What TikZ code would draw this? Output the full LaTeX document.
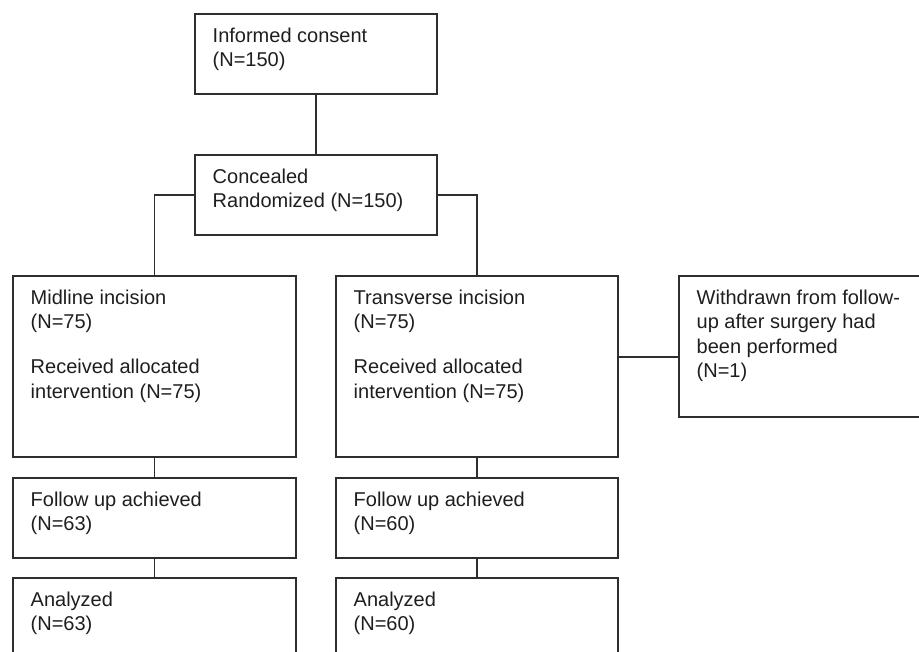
\documentclass[tikz,border=0pt]{standalone}
\usepackage{fontspec}
\setmainfont{Liberation Sans}
\usetikzlibrary{calc}
\definecolor{ln}{HTML}{2E2E2E}
\definecolor{tx}{HTML}{1E1E1E}
\begin{document}
\begin{tikzpicture}[x=1pt,y=-1pt,
  box/.style={draw=ln,line width=1.5pt,rectangle,inner sep=0pt,outer sep=0pt,anchor=north west},
  txt/.style={text=tx,font=\fontsize{20}{24.5}\selectfont,align=left,inner sep=0pt,anchor=north west,
    execute at begin node={\rule{0pt}{15pt}}},
  conn/.style={draw=ln,line width=1.5pt}]
\useasboundingbox (0,0) rectangle (919,652);
% boxes
\node[box,minimum width=242pt,minimum height=80pt] (b1) at (195,14) {};
\node[box,minimum width=242pt,minimum height=80pt] (b2) at (195,155) {};
\node[box,minimum width=283pt,minimum height=181pt] (b3) at (13,276) {};
\node[box,minimum width=282pt,minimum height=181pt] (b4) at (336,276) {};
\node[box,minimum width=242pt,minimum height=141pt] (b5) at (679,276) {};
\node[box,minimum width=283pt,minimum height=80pt] (b6) at (13,478) {};
\node[box,minimum width=282pt,minimum height=80pt] (b7) at (336,478) {};
\node[box,minimum width=283pt,minimum height=100pt] (b8) at (13,578) {};
\node[box,minimum width=282pt,minimum height=100pt] (b9) at (336,578) {};
% texts
\node[txt] (t1) at ($(b1.north west)+(17.5,13.5)$) {Informed consent\\(N=150)};
\node[txt] (t2) at ($(b2.north west)+(17.5,13.5)$) {Concealed\\Randomized (N=150)};
\node[txt] (t3) at ($(b3.north west)+(17.5,13.5)$) {Midline incision\\(N=75)\\[20.5pt]Received allocated\\intervention (N=75)};
\node[txt] (t4) at ($(b4.north west)+(17.5,13.5)$) {Transverse incision\\(N=75)\\[20.5pt]Received allocated\\intervention (N=75)};
\node[txt] (t5) at ($(b5.north west)+(17.5,13.5)$) {Withdrawn from follow-\\up after surgery had\\been performed\\(N=1)};
\node[txt] (t6) at ($(b6.north west)+(17.5,13.5)$) {Follow up achieved\\(N=63)};
\node[txt] (t7) at ($(b7.north west)+(17.5,13.5)$) {Follow up achieved\\(N=60)};
\node[txt] (t8) at ($(b8.north west)+(17.5,13.5)$) {Analyzed\\(N=63)};
\node[txt] (t9) at ($(b9.north west)+(17.5,13.5)$) {Analyzed\\(N=60)};
% connectors
\coordinate (w) at ($(b5.north west)+(0,81)$);
\draw[conn] (b1.south) -- (b2.north);
\draw[conn] (b2.west) -| (b3.north);
\draw[conn] (b2.east) -| (b4.north);
\draw[conn] (b3.south) -- (b6.north);
\draw[conn] (b4.south) -- (b7.north);
\draw[conn] (b6.south) -- (b8.north);
\draw[conn] (b7.south) -- (b9.north);
\draw[conn] (b4.east |- w) -- (w);
\end{tikzpicture}
\end{document}
